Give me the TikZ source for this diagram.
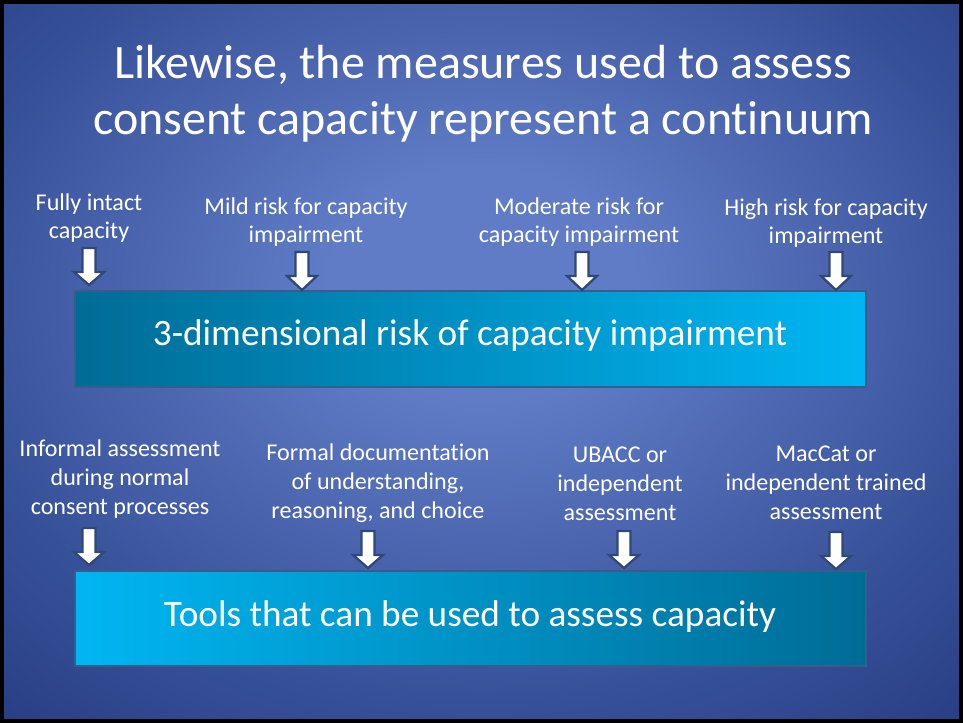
\documentclass[tikz,border=0pt]{standalone}
\usepackage{fontspec}
\setmainfont{Carlito}[Ligatures={NoCommon}]
\definecolor{bgin}{RGB}{96,124,198}
\definecolor{bgmid}{RGB}{54,80,152}
\definecolor{bgedge}{RGB}{26,44,110}
\definecolor{bgout}{RGB}{6,26,84}
\definecolor{tealdark}{RGB}{0,108,150}
\definecolor{tealbright}{RGB}{0,182,242}
\definecolor{boxedge}{RGB}{56,92,140}
\definecolor{arrowedge}{RGB}{48,72,120}
\pgfdeclareradialshading{slidebg}{\pgfpoint{0bp}{6bp}}{color(0bp)=(bgin); color(8bp)=(bgin); color(28bp)=(bgmid); color(48bp)=(bgedge); color(66bp)=(bgout); color(80bp)=(bgout)}
\tikzset{
  lbl/.style={text=white,align=center,font=\fontsize{13.7}{16.4}\selectfont},
  bigbox/.style={draw=boxedge,line width=1.2pt,text=white,font=\fontsize{21.2}{26}\selectfont},
  pics/dnarrow/.style={code={
      \draw[fill=white,draw=arrowedge,line width=1.3pt,line join=miter]
        (-6.5,0) -- (6.5,0) -- (6.5,24) -- (15,24) -- (0,#1) -- (-15,24) -- (-6.5,24) -- cycle;
  }}
}
\begin{document}
\begin{tikzpicture}[x=0.02cm,y=-0.02cm]
	% background and frame
	\shade[shading=slidebg] (0,0) rectangle (963,723);
	\draw[line width=0.08cm,black] (2,2) rectangle (961,721);
	\useasboundingbox (0,0) rectangle (963,723);
	% title
	\node[text=white,align=center,font=\fontsize{27.3}{31.8}\selectfont] (title) at (483,94) {Likewise, the measures used to assess\\consent capacity represent a continuum};
	% the two bars
	\shade[left color=tealdark,right color=tealbright] (75,291) rectangle (866,387);
	\node[bigbox,minimum width=791*0.02cm,minimum height=96*0.02cm] (risk) at (470.5,339) {};
	\node[text=white,font=\fontsize{21.2}{26}\selectfont] (risktxt) at (470,336) {3-dimensional risk of capacity impairment};
	\shade[left color=tealbright,right color=tealdark] (75,571) rectangle (866,666);
	\node[bigbox,minimum width=791*0.02cm,minimum height=95*0.02cm] (tools) at (470.5,618.5) {};
	\node[text=white,font=\fontsize{21.2}{26}\selectfont] (toolstxt) at (470,617) {Tools that can be used to assess capacity};
	% risk levels
	\node[lbl] (r1) at (89,218) {Fully intact\\capacity};
	\node[lbl] (r2) at (306,222) {Mild risk for capacity\\impairment};
	\node[lbl] (r3) at (579,222) {Moderate risk for\\capacity impairment};
	\node[lbl] (r4) at (826,223) {High risk for capacity\\impairment};
	% measures
	\node[lbl] (m1) at (120,479) {Informal assessment\\during normal\\consent processes};
	\node[lbl] (m2) at (378,483) {Formal documentation\\of understanding,\\reasoning, and choice};
	\node[lbl] (m3) at (620,484) {UBACC or\\independent\\assessment};
	\node[lbl] (m4) at (826,483) {MacCat or\\independent trained\\assessment};
	% arrows
	\pic (a1) at (89,248) {dnarrow=37};
	\pic (a2) at (302,252) {dnarrow=38};
	\pic (a3) at (582,252) {dnarrow=38};
	\pic (a4) at (836,252) {dnarrow=38};
	\pic (b1) at (89,528) {dnarrow=37};
	\pic (b2) at (368,531) {dnarrow=37};
	\pic (b3) at (624,531) {dnarrow=37};
	\pic (b4) at (836,532) {dnarrow=37};
\end{tikzpicture}
\end{document}
